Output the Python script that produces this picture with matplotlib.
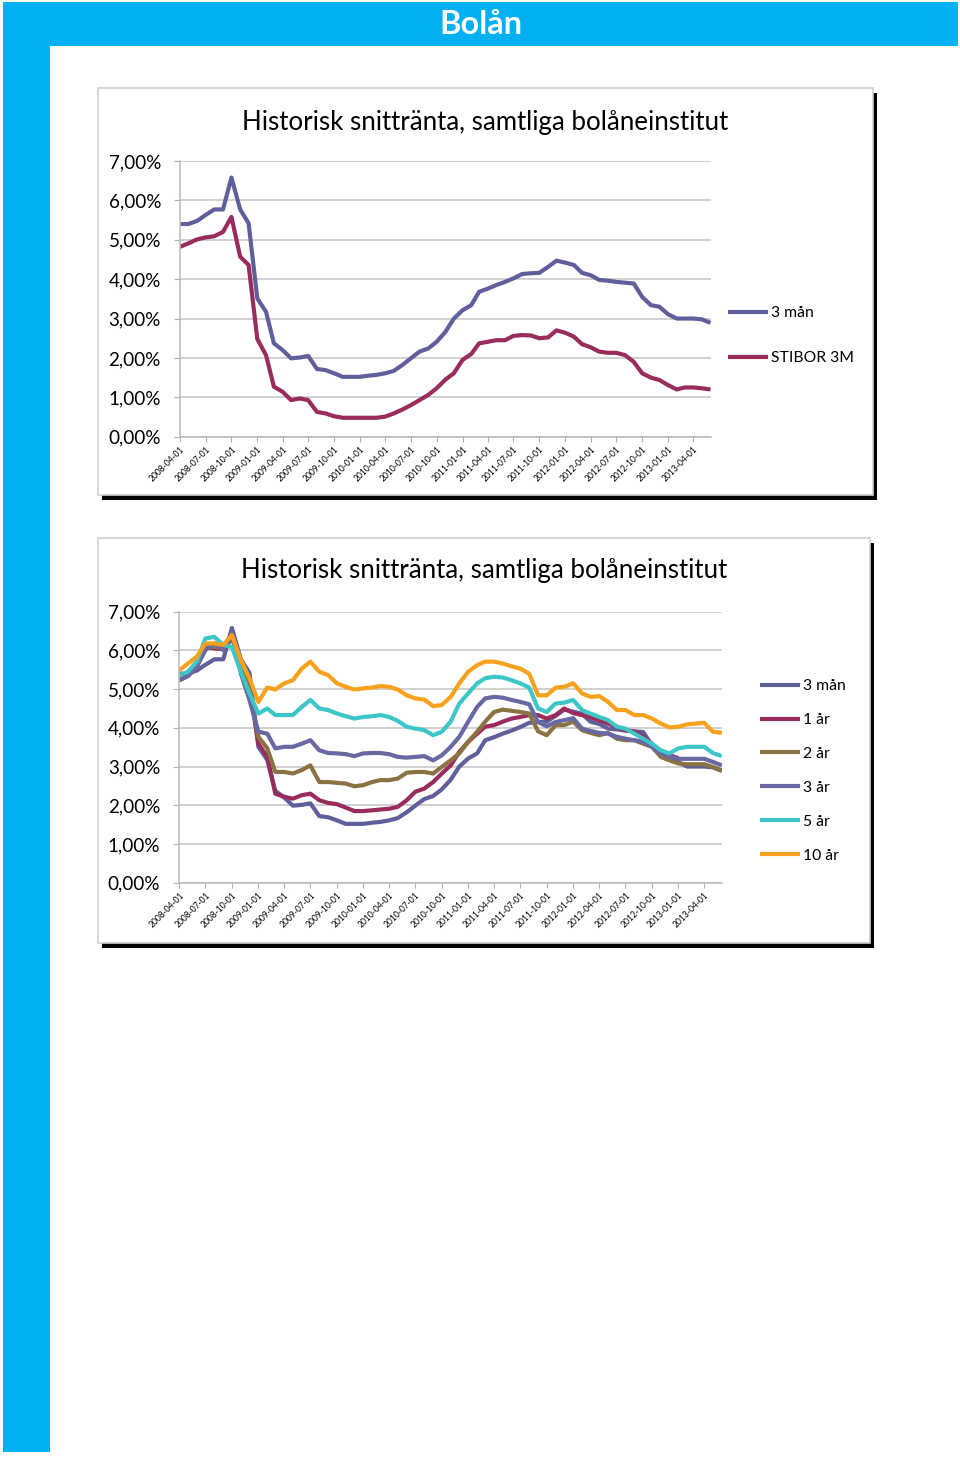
import numpy as np
import pandas as pd
import matplotlib
matplotlib.use("Agg")
import matplotlib.pyplot as plt
from matplotlib.patches import Rectangle
from matplotlib.lines import Line2D
from matplotlib.ticker import FuncFormatter

plt.rcParams['font.family'] = ['Lato', 'DejaVu Sans']

# ---------------- data ----------------
dates = pd.date_range("2008-04-01", "2013-06-01", freq="MS")
tick_dates = pd.date_range("2008-04-01", "2013-04-01", freq="QS-JAN")
tick_labels = [d.strftime("%Y-%m-%d") for d in tick_dates]

title_text = "Historisk snittränta, samtliga bolåneinstitut"

three_man = [5.40, 5.40, 5.48, 5.63, 5.77, 5.77, 6.58, 5.77, 5.42, 3.51,
             3.17, 2.37, 2.20, 1.99, 2.01, 2.05, 1.72, 1.69, 1.61, 1.52,
             1.52, 1.52, 1.55, 1.57, 1.61, 1.67, 1.82, 1.99, 2.16, 2.24,
             2.41, 2.66, 3.00, 3.21, 3.34, 3.68, 3.76, 3.85, 3.93, 4.02,
             4.13, 4.15, 4.16, 4.31, 4.47, 4.42, 4.36, 4.16, 4.10, 3.98,
             3.96, 3.93, 3.91, 3.89, 3.55, 3.34, 3.30, 3.11, 3.00, 3.00,
             3.00, 2.98, 2.89]
stibor_3m = [4.82, 4.91, 5.01, 5.06, 5.09, 5.20, 5.58, 4.57, 4.36, 2.48,
             2.07, 1.27, 1.14, 0.93, 0.97, 0.93, 0.63, 0.59, 0.52, 0.48,
             0.48, 0.48, 0.48, 0.48, 0.51, 0.59, 0.69, 0.80, 0.93, 1.06,
             1.23, 1.45, 1.61, 1.95, 2.10, 2.37, 2.41, 2.45, 2.45, 2.56,
             2.58, 2.57, 2.50, 2.52, 2.70, 2.64, 2.54, 2.35, 2.27, 2.16,
             2.13, 2.13, 2.07, 1.90, 1.61, 1.50, 1.44, 1.31, 1.20, 1.25,
             1.25, 1.23, 1.20]

one_yr = [5.23, 5.34, 5.58, 6.09, 6.05, 6.03, 6.31, 5.75, 5.06, 3.59,
          3.25, 2.30, 2.22, 2.17, 2.26, 2.30, 2.13, 2.06, 2.03, 1.94,
          1.85, 1.85, 1.87, 1.89, 1.91, 1.96, 2.13, 2.35, 2.43, 2.60,
          2.82, 3.03, 3.38, 3.64, 3.85, 4.03, 4.07, 4.16, 4.24, 4.28,
          4.33, 4.33, 4.24, 4.33, 4.50, 4.38, 4.33, 4.27, 4.20, 4.11,
          4.03, 3.94, 3.90, 3.77, 3.59, 3.38, 3.29, 3.22,
          None, None, None, None, None]
two_yr = [5.23, 5.36, 5.58, 6.09, 6.09, 6.05, 6.35, 5.58, 4.97, 3.77,
          3.47, 2.86, 2.86, 2.82, 2.91, 3.03, 2.60, 2.60, 2.58, 2.56,
          2.49, 2.52, 2.60, 2.65, 2.65, 2.69, 2.84, 2.86, 2.86, 2.82,
          2.99, 3.16, 3.34, 3.64, 3.90, 4.16, 4.41, 4.47, 4.44, 4.41,
          4.37, 3.91, 3.81, 4.07, 4.07, 4.16, 3.94, 3.87, 3.81, 3.87,
          3.72, 3.68, 3.68, 3.59, 3.51, 3.25, 3.16, 3.08, 3.06, 3.06,
          3.06, 2.99, 2.89]
three_yr = [5.23, 5.34, 5.58, 6.01, 6.18, 6.01, 6.48, 5.41, 4.72, 3.90,
            3.85, 3.47, 3.51, 3.51, 3.59, 3.68, 3.42, 3.35, 3.34, 3.32,
            3.27, 3.34, 3.35, 3.35, 3.32, 3.25, 3.23, 3.25, 3.27, 3.16,
            3.29, 3.51, 3.77, 4.16, 4.54, 4.76, 4.80, 4.78, 4.72, 4.67,
            4.61, 4.15, 4.04, 4.15, 4.20, 4.25, 3.98, 3.92, 3.87, 3.85,
            3.77, 3.72, 3.68, 3.64, 3.51, 3.34, 3.25, 3.20, 3.20, 3.20,
            3.20, 3.12, 3.03]
five_yr = [5.36, 5.45, 5.71, 6.31, 6.35, 6.14, 6.09, 5.45, 4.89, 4.37,
           4.50, 4.33, 4.33, 4.33, 4.54, 4.72, 4.50, 4.46, 4.37, 4.30,
           4.24, 4.28, 4.30, 4.33, 4.28, 4.18, 4.03, 3.98, 3.94, 3.81,
           3.90, 4.16, 4.63, 4.89, 5.15, 5.28, 5.32, 5.30, 5.23, 5.15,
           5.04, 4.50, 4.41, 4.63, 4.65, 4.72, 4.46, 4.37, 4.28, 4.20,
           4.03, 3.98, 3.85, 3.72, 3.59, 3.42, 3.34, 3.47, 3.51, 3.51,
           3.51, 3.35, 3.27]
ten_yr = [5.49, 5.66, 5.84, 6.18, 6.18, 6.14, 6.40, 5.75, 5.28, 4.67,
          5.04, 4.99, 5.15, 5.23, 5.53, 5.71, 5.45, 5.36, 5.15, 5.06,
          4.99, 5.02, 5.04, 5.08, 5.06, 4.99, 4.84, 4.76, 4.73, 4.56,
          4.59, 4.80, 5.15, 5.45, 5.62, 5.71, 5.71, 5.66, 5.59, 5.53,
          5.40, 4.84, 4.84, 5.04, 5.06, 5.15, 4.89, 4.80, 4.82, 4.67,
          4.46, 4.46, 4.33, 4.33, 4.24, 4.11, 4.01, 4.03, 4.09, 4.11,
          4.13, 3.90, 3.87]

chart1_series = [("3 mån", three_man, "#5f5f9b"), ("STIBOR 3M", stibor_3m, "#992c5d")]
chart2_series = [("3 mån", three_man, "#5f5f9b"), ("1 år", one_yr, "#992c5d"),
                 ("2 år", two_yr, "#8b7242"), ("3 år", three_yr, "#6868a3"),
                 ("5 år", five_yr, "#3cc6c8"), ("10 år", ten_yr, "#f8a11c")]

# ---------------- layout ----------------
W, H = 960, 1459
fig = plt.figure(figsize=(W / 100, H / 100), dpi=100)
bg = fig.add_axes([0, 0, 1, 1])
bg.set_xlim(0, W)
bg.set_ylim(H, 0)
bg.axis("off")

BLUE = "#00b0f0"
bg.add_patch(Rectangle((3, 2), 955, 44, color=BLUE, lw=0))
bg.add_patch(Rectangle((3, 2), 47, 1450, color=BLUE, lw=0))

renderer = fig.canvas.get_renderer()


def fit(t, target):
    w = t.get_window_extent(renderer).width
    t.set_fontsize(t.get_fontsize() * target / w)
    return t


def size_for(text, target, **kw):
    t = bg.text(0, 0, text, fontsize=10, **kw)
    w = t.get_window_extent(renderer).width
    t.remove()
    return 10 * target / w


hdr = bg.text(481, 24, "Bolån", color="white", fontsize=20, fontweight="bold",
              ha="center", va="center")
fit(hdr, 83)

ytick_fs = size_for("7,00%", 52)
xtick_fs = size_for("2008-04-01", 46)
leg_fs = size_for("STIBOR 3M", 82)
title_fs = size_for(title_text, 487)

PX = 0.72  # points per pixel at 100 dpi


def px_axes(x0, y0, x1, y1):
    return fig.add_axes([x0 / W, 1 - y1 / H, (x1 - x0) / W, (y1 - y0) / H])


def draw_box(x0, y0, x1, y1):
    bg.add_patch(Rectangle((x0 + 4, y0 + 5), x1 - x0, y1 - y0, color="black", lw=0))
    bg.add_patch(Rectangle((x0, y0), x1 - x0, y1 - y0, facecolor="white",
                           edgecolor="#cfcfcf", lw=1.2))


def make_chart(box, plot, title_xy, series, leg_x, leg_ys):
    draw_box(*box)
    bg.text(title_xy[0], title_xy[1], title_text, fontsize=title_fs,
            ha="center", va="baseline", color="black")
    ax = px_axes(*plot)
    for name, vals, col in series:
        y = np.array([np.nan if v is None else v for v in vals], dtype=float)
        ax.plot(dates, y, color=col, lw=3.0, solid_capstyle="butt",
                solid_joinstyle="round")
    ax.set_xlim(dates[0], dates[-1])
    ax.set_ylim(0, 7)
    ax.set_yticks(np.arange(0, 8, 1))
    ax.yaxis.set_major_formatter(FuncFormatter(lambda v, p: f"{v:.2f}%".replace(".", ",")))
    ax.grid(axis="y", color="#c4c4c4", lw=1.1)
    ax.set_axisbelow(True)
    ax.set_xticks(tick_dates)
    ax.set_xticklabels(tick_labels, rotation=45, ha="right", va="top",
                       rotation_mode="anchor", fontsize=xtick_fs)
    ax.tick_params(axis="x", direction="out", length=5 * PX, color="#b0b0b0",
                   pad=3 * PX)
    ax.tick_params(axis="y", direction="out", length=6 * PX, color="#b0b0b0",
                   pad=13 * PX, labelsize=ytick_fs)
    for s in ("top", "right"):
        ax.spines[s].set_visible(False)
    for s in ("left", "bottom"):
        ax.spines[s].set_color("#b8b8b8")
        ax.spines[s].set_linewidth(1.1)
    ax.patch.set_alpha(0)
    # legend
    for (name, vals, col), ly in zip(series, leg_ys):
        bg.add_line(Line2D([leg_x, leg_x + 40], [ly, ly], color=col, lw=3.0,
                           solid_capstyle="butt"))
        bg.text(leg_x + 43, ly, name, fontsize=leg_fs, ha="left", va="center_baseline")
    return ax


make_chart((98, 88, 873, 495), (180, 161, 710.5, 436.7), (485.4, 130),
           chart1_series, 728, [311.7, 356.7])
make_chart((98, 538, 870, 943), (179.3, 611.7, 721.8, 882.7), (484.5, 578),
           chart2_series, 760, [685, 718.5, 752, 786, 820, 854])

fig.savefig("out.png", dpi=100)
